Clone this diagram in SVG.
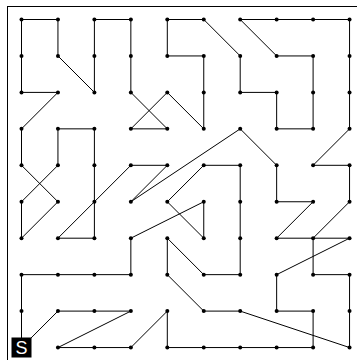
<svg xmlns="http://www.w3.org/2000/svg" width="357" height="360" viewBox="0 0 357 360">
<style>
.edge{fill:none;stroke:#000;stroke-width:1;stroke-linejoin:round}
.dot{fill:#000}
.frame{fill:none;stroke:#000;stroke-width:1}
.lbl{font-family:"Liberation Sans",Arial,sans-serif;font-size:18px;fill:#fff;text-anchor:middle}
</style>
<defs><circle id="d" r="2" class="dot"/></defs>
<rect width="357" height="360" fill="#fff"/>
<rect class="frame" x="7.5" y="6.5" width="380" height="380"/>
<g id="connectors">
<polyline class="edge" points="57.95,55.95 57.95,19.5 21.5,19.5 21.5,55.95 21.5,92.4 57.95,92.4 21.5,128.85 21.5,165.3 57.95,201.75 21.5,238.2 21.5,201.75 57.95,165.3 57.95,128.85 94.4,128.85 94.4,165.3 94.4,201.75 94.4,238.2 57.95,238.2 130.85,165.3 167.3,165.3 130.85,201.75 240.2,128.85 276.65,165.3 276.65,201.75 313.1,201.75 276.65,238.2 313.1,238.2 349.55,201.75 349.55,165.3 313.1,165.3 349.55,128.85 349.55,92.4 349.55,55.95 349.55,19.5 313.1,19.5 276.65,19.5 240.2,19.5 276.65,55.95 313.1,55.95 313.1,92.4 313.1,128.85 276.65,128.85 276.65,92.4 240.2,92.4 240.2,55.95 203.75,19.5 167.3,19.5 167.3,55.95 203.75,55.95 203.75,92.4 203.75,128.85 167.3,92.4 130.85,128.85 167.3,128.85 130.85,92.4 130.85,55.95 130.85,19.5 94.4,19.5 94.4,55.95 94.4,92.4 57.95,55.95"/>
<polyline class="edge" points="313.1,238.2 349.55,238.2 276.65,274.65 276.65,311.1 313.1,311.1 313.1,347.55 276.65,347.55 240.2,347.55 203.75,347.55 167.3,347.55 167.3,311.1 130.85,347.55 94.4,347.55 57.95,347.55 130.85,311.1 94.4,311.1 57.95,311.1 21.5,347.55 21.5,311.1 21.5,274.65 57.95,274.65 94.4,274.65 130.85,274.65 130.85,238.2 203.75,201.75 203.75,238.2 167.3,201.75 203.75,165.3 240.2,165.3 240.2,201.75 240.2,238.2 240.2,274.65 203.75,274.65 167.3,238.2 167.3,274.65 203.75,311.1 240.2,311.1 349.55,347.55 349.55,311.1 349.55,274.65 313.1,274.65 313.1,238.2"/>
</g>
<g id="nodes">
<g id="n0-0"><use href="#d" x="21.5" y="19.5"/></g><g id="n1-0"><use href="#d" x="57.95" y="19.5"/></g><g id="n2-0"><use href="#d" x="94.4" y="19.5"/></g><g id="n3-0"><use href="#d" x="130.85" y="19.5"/></g><g id="n4-0"><use href="#d" x="167.3" y="19.5"/></g><g id="n5-0"><use href="#d" x="203.75" y="19.5"/></g><g id="n6-0"><use href="#d" x="240.2" y="19.5"/></g><g id="n7-0"><use href="#d" x="276.65" y="19.5"/></g><g id="n8-0"><use href="#d" x="313.1" y="19.5"/></g><g id="n9-0"><use href="#d" x="349.55" y="19.5"/></g>
<g id="n0-1"><use href="#d" x="21.5" y="55.95"/></g><g id="n1-1"><use href="#d" x="57.95" y="55.95"/></g><g id="n2-1"><use href="#d" x="94.4" y="55.95"/></g><g id="n3-1"><use href="#d" x="130.85" y="55.95"/></g><g id="n4-1"><use href="#d" x="167.3" y="55.95"/></g><g id="n5-1"><use href="#d" x="203.75" y="55.95"/></g><g id="n6-1"><use href="#d" x="240.2" y="55.95"/></g><g id="n7-1"><use href="#d" x="276.65" y="55.95"/></g><g id="n8-1"><use href="#d" x="313.1" y="55.95"/></g><g id="n9-1"><use href="#d" x="349.55" y="55.95"/></g>
<g id="n0-2"><use href="#d" x="21.5" y="92.4"/></g><g id="n1-2"><use href="#d" x="57.95" y="92.4"/></g><g id="n2-2"><use href="#d" x="94.4" y="92.4"/></g><g id="n3-2"><use href="#d" x="130.85" y="92.4"/></g><g id="n4-2"><use href="#d" x="167.3" y="92.4"/></g><g id="n5-2"><use href="#d" x="203.75" y="92.4"/></g><g id="n6-2"><use href="#d" x="240.2" y="92.4"/></g><g id="n7-2"><use href="#d" x="276.65" y="92.4"/></g><g id="n8-2"><use href="#d" x="313.1" y="92.4"/></g><g id="n9-2"><use href="#d" x="349.55" y="92.4"/></g>
<g id="n0-3"><use href="#d" x="21.5" y="128.85"/></g><g id="n1-3"><use href="#d" x="57.95" y="128.85"/></g><g id="n2-3"><use href="#d" x="94.4" y="128.85"/></g><g id="n3-3"><use href="#d" x="130.85" y="128.85"/></g><g id="n4-3"><use href="#d" x="167.3" y="128.85"/></g><g id="n5-3"><use href="#d" x="203.75" y="128.85"/></g><g id="n6-3"><use href="#d" x="240.2" y="128.85"/></g><g id="n7-3"><use href="#d" x="276.65" y="128.85"/></g><g id="n8-3"><use href="#d" x="313.1" y="128.85"/></g><g id="n9-3"><use href="#d" x="349.55" y="128.85"/></g>
<g id="n0-4"><use href="#d" x="21.5" y="165.3"/></g><g id="n1-4"><use href="#d" x="57.95" y="165.3"/></g><g id="n2-4"><use href="#d" x="94.4" y="165.3"/></g><g id="n3-4"><use href="#d" x="130.85" y="165.3"/></g><g id="n4-4"><use href="#d" x="167.3" y="165.3"/></g><g id="n5-4"><use href="#d" x="203.75" y="165.3"/></g><g id="n6-4"><use href="#d" x="240.2" y="165.3"/></g><g id="n7-4"><use href="#d" x="276.65" y="165.3"/></g><g id="n8-4"><use href="#d" x="313.1" y="165.3"/></g><g id="n9-4"><use href="#d" x="349.55" y="165.3"/></g>
<g id="n0-5"><use href="#d" x="21.5" y="201.75"/></g><g id="n1-5"><use href="#d" x="57.95" y="201.75"/></g><g id="n2-5"><use href="#d" x="94.4" y="201.75"/></g><g id="n3-5"><use href="#d" x="130.85" y="201.75"/></g><g id="n4-5"><use href="#d" x="167.3" y="201.75"/></g><g id="n5-5"><use href="#d" x="203.75" y="201.75"/></g><g id="n6-5"><use href="#d" x="240.2" y="201.75"/></g><g id="n7-5"><use href="#d" x="276.65" y="201.75"/></g><g id="n8-5"><use href="#d" x="313.1" y="201.75"/></g><g id="n9-5"><use href="#d" x="349.55" y="201.75"/></g>
<g id="n0-6"><use href="#d" x="21.5" y="238.2"/></g><g id="n1-6"><use href="#d" x="57.95" y="238.2"/></g><g id="n2-6"><use href="#d" x="94.4" y="238.2"/></g><g id="n3-6"><use href="#d" x="130.85" y="238.2"/></g><g id="n4-6"><use href="#d" x="167.3" y="238.2"/></g><g id="n5-6"><use href="#d" x="203.75" y="238.2"/></g><g id="n6-6"><use href="#d" x="240.2" y="238.2"/></g><g id="n7-6"><use href="#d" x="276.65" y="238.2"/></g><g id="n8-6"><use href="#d" x="313.1" y="238.2"/></g><g id="n9-6"><use href="#d" x="349.55" y="238.2"/></g>
<g id="n0-7"><use href="#d" x="21.5" y="274.65"/></g><g id="n1-7"><use href="#d" x="57.95" y="274.65"/></g><g id="n2-7"><use href="#d" x="94.4" y="274.65"/></g><g id="n3-7"><use href="#d" x="130.85" y="274.65"/></g><g id="n4-7"><use href="#d" x="167.3" y="274.65"/></g><g id="n5-7"><use href="#d" x="203.75" y="274.65"/></g><g id="n6-7"><use href="#d" x="240.2" y="274.65"/></g><g id="n7-7"><use href="#d" x="276.65" y="274.65"/></g><g id="n8-7"><use href="#d" x="313.1" y="274.65"/></g><g id="n9-7"><use href="#d" x="349.55" y="274.65"/></g>
<g id="n0-8"><use href="#d" x="21.5" y="311.1"/></g><g id="n1-8"><use href="#d" x="57.95" y="311.1"/></g><g id="n2-8"><use href="#d" x="94.4" y="311.1"/></g><g id="n3-8"><use href="#d" x="130.85" y="311.1"/></g><g id="n4-8"><use href="#d" x="167.3" y="311.1"/></g><g id="n5-8"><use href="#d" x="203.75" y="311.1"/></g><g id="n6-8"><use href="#d" x="240.2" y="311.1"/></g><g id="n7-8"><use href="#d" x="276.65" y="311.1"/></g><g id="n8-8"><use href="#d" x="313.1" y="311.1"/></g><g id="n9-8"><use href="#d" x="349.55" y="311.1"/></g>
<g id="start"><rect x="11.5" y="337.5" width="20" height="20" fill="#000"/><text class="lbl" x="21.5" y="354">S</text></g><g id="n1-9"><use href="#d" x="57.95" y="347.55"/></g><g id="n2-9"><use href="#d" x="94.4" y="347.55"/></g><g id="n3-9"><use href="#d" x="130.85" y="347.55"/></g><g id="n4-9"><use href="#d" x="167.3" y="347.55"/></g><g id="n5-9"><use href="#d" x="203.75" y="347.55"/></g><g id="n6-9"><use href="#d" x="240.2" y="347.55"/></g><g id="n7-9"><use href="#d" x="276.65" y="347.55"/></g><g id="n8-9"><use href="#d" x="313.1" y="347.55"/></g><g id="n9-9"><use href="#d" x="349.55" y="347.55"/></g>
</g>
</svg>
